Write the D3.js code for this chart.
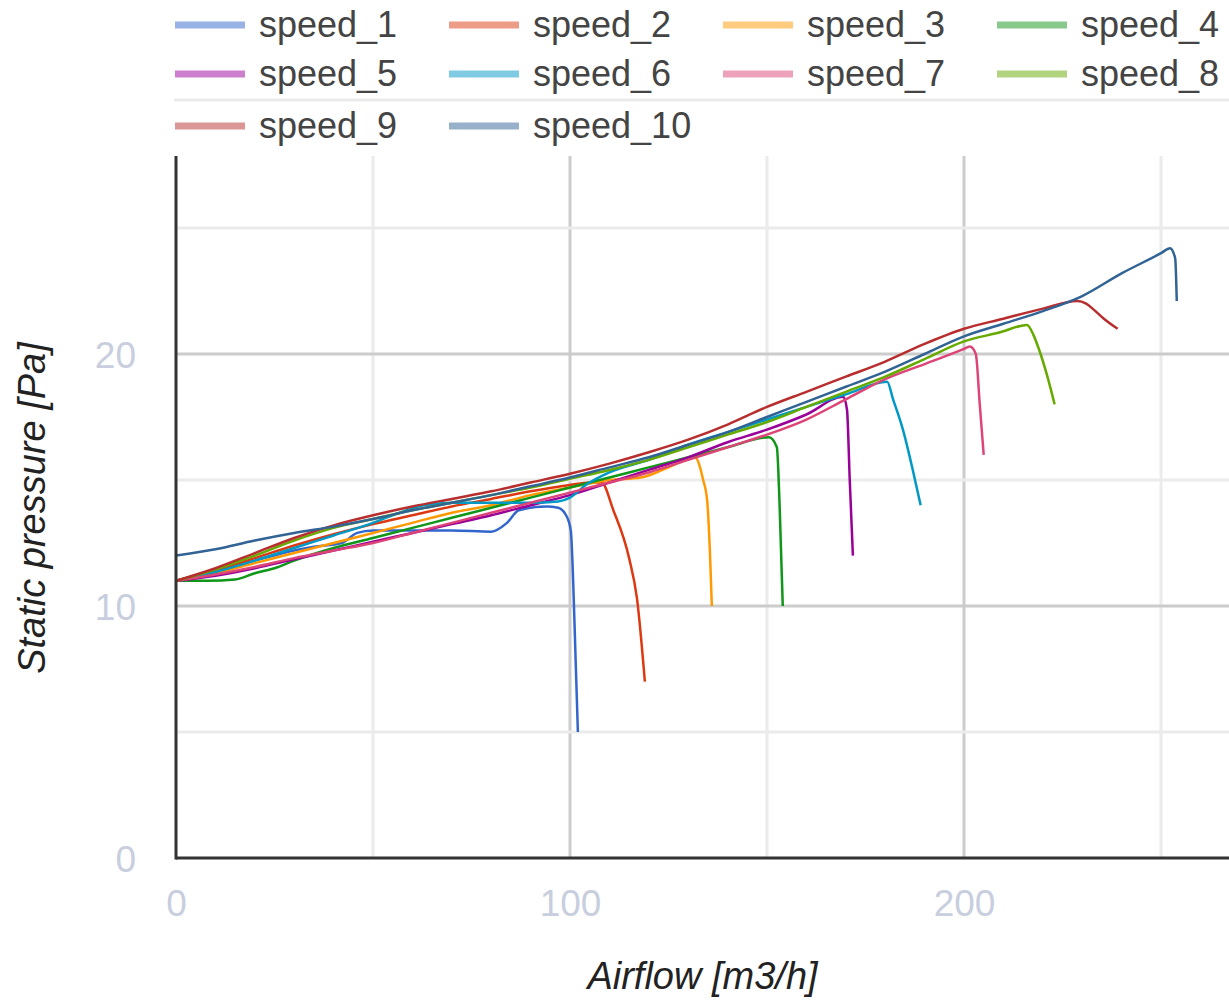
<!DOCTYPE html>
<html>
<head>
<meta charset="utf-8">
<script src="https://cdn.jsdelivr.net/npm/d3@7"></script>
<style>
  body { margin: 0; background: #fff; }
  svg { display: block; font-family: "Liberation Sans", Arial, sans-serif; }
</style>
</head>
<body>
<div id="chart"></div>
<script>
// airflow [m3/h], static pressure [Pa]
const speed_1 = [[0, 11], [10, 11.4], [20, 11.8], [30, 12.2], [35, 12.35], [42, 12.5], [46, 12.9], [50, 13.0], [60, 13.0], [70, 13.0], [80, 12.95], [84, 13.3], [87, 13.8], [94, 13.95], [97, 13.9], [99, 13.6], [100.2, 13.0], [100.8, 11.0], [101.4, 8.0], [102, 5.0]];
const speed_2 = [[0, 11], [10, 11.4], [20, 11.9], [30, 12.4], [40, 12.85], [50, 13.25], [60, 13.6], [70, 13.95], [80, 14.25], [90, 14.55], [100, 14.8], [105, 14.9], [108, 14.9], [111, 13.8], [115, 11.9], [117, 10.3], [119, 7.0]];
const speed_3 = [[0, 11], [10, 11.3], [20, 11.7], [30, 12.1], [40, 12.5], [50, 12.9], [60, 13.3], [70, 13.7], [80, 14.0], [90, 14.4], [100, 14.7], [110, 15.0], [118, 15.1], [125, 15.5], [131.7, 15.9], [133.8, 15.0], [134.8, 14.2], [135.5, 12.2], [136, 10.0]];
const speed_4 = [[0, 11], [8, 11.0], [15, 11.05], [20, 11.3], [25, 11.5], [30, 11.8], [40, 12.3], [50, 12.7], [60, 13.1], [70, 13.5], [80, 13.9], [90, 14.3], [100, 14.7], [110, 15.1], [120, 15.5], [130, 15.9], [140, 16.3], [150.5, 16.7], [152.5, 16.3], [153.2, 14.0], [154, 10.0]];
const speed_5 = [[0, 11], [10, 11.2], [20, 11.5], [30, 11.85], [40, 12.2], [50, 12.55], [60, 12.9], [70, 13.25], [80, 13.6], [90, 14.0], [100, 14.4], [110, 14.9], [120, 15.4], [130, 15.9], [140, 16.5], [150, 17.0], [160, 17.6], [169.3, 18.3], [170.3, 17.8], [171, 15.0], [171.8, 12.0]];
const speed_6 = [[0, 11], [10, 11.35], [20, 11.8], [30, 12.3], [40, 12.8], [50, 13.3], [55, 13.6], [63, 14.0], [70, 14.1], [80, 14.1], [90, 14.1], [97, 14.15], [100, 14.3], [104, 14.8], [110, 15.3], [120, 15.8], [130, 16.4], [140, 16.9], [150, 17.4], [160, 17.9], [170, 18.4], [180.5, 18.9], [182, 18.2], [184.5, 17.0], [187, 15.4], [189, 14.0]];
const speed_7 = [[0, 11], [10, 11.25], [20, 11.55], [30, 11.9], [40, 12.2], [50, 12.5], [60, 12.9], [70, 13.3], [80, 13.7], [90, 14.1], [100, 14.5], [110, 14.9], [120, 15.3], [130, 15.8], [140, 16.3], [150, 16.8], [160, 17.4], [170, 18.2], [180, 19.0], [190, 19.6], [200, 20.2], [201.5, 20.3], [203, 20.0], [204, 18.0], [205, 16.0]];
const speed_8 = [[0, 11], [10, 11.45], [20, 12.0], [30, 12.6], [40, 13.1], [50, 13.45], [60, 13.8], [70, 14.1], [80, 14.4], [90, 14.7], [100, 15.05], [110, 15.4], [120, 15.8], [130, 16.3], [140, 16.8], [150, 17.3], [160, 17.9], [170, 18.5], [180, 19.1], [190, 19.8], [200, 20.5], [210, 20.9], [214, 21.1], [216, 21.15], [217.5, 20.8], [219, 20.2], [221, 19.2], [223, 18.0]];
const speed_9 = [[0, 11], [10, 11.5], [20, 12.1], [30, 12.7], [40, 13.2], [50, 13.6], [60, 13.95], [70, 14.25], [80, 14.55], [90, 14.9], [100, 15.25], [110, 15.65], [120, 16.1], [130, 16.6], [140, 17.2], [150, 17.9], [160, 18.5], [170, 19.1], [180, 19.7], [190, 20.4], [200, 21.0], [210, 21.4], [220, 21.8], [228.7, 22.1], [231, 22.0], [233, 21.75], [235.5, 21.4], [239, 21.0]];
const speed_10 = [[0, 12], [10, 12.25], [20, 12.6], [30, 12.9], [40, 13.15], [50, 13.45], [60, 13.8], [70, 14.1], [80, 14.4], [90, 14.75], [100, 15.1], [110, 15.5], [120, 15.9], [130, 16.4], [140, 16.9], [150, 17.5], [160, 18.1], [170, 18.7], [180, 19.3], [190, 20.0], [200, 20.7], [210, 21.2], [220, 21.7], [230, 22.3], [240, 23.2], [250, 24.0], [252.3, 24.2], [253.6, 23.8], [254, 22.1]];

const seriesNames = ["speed_1", "speed_2", "speed_3", "speed_4", "speed_5", "speed_6", "speed_7", "speed_8", "speed_9", "speed_10"];
const seriesValues = [speed_1, speed_2, speed_3, speed_4, speed_5, speed_6, speed_7, speed_8, speed_9, speed_10];
const colors = ["#3366cc", "#dc3912", "#ff9900", "#109618", "#990099", "#0099c6", "#dd4477", "#66aa00", "#b82e2e", "#316395"];

const xLabelTicks = [0, 100, 200];
const xGridTicks = [50, 100, 150, 200, 250];
const yLabelTicks = [0, 10, 20];
const yGridTicks = [5, 10, 15, 20, 25];

const W = 1229, H = 1001;
const plot = { left: 176, right: 1229, top: 156, bottom: 858 };

const svg = d3.select("#chart").append("svg")
    .attr("width", W)
    .attr("height", H);

// 394 px per 100 m3/h, 25.2 px per Pa
const x = d3.scaleLinear()
    .domain([0, (plot.right - plot.left) / 3.94])
    .range([plot.left, plot.right]);
const y = d3.scaleLinear()
    .domain([0, (plot.bottom - plot.top) / 25.2])
    .range([plot.bottom, plot.top]);

// gridlines
const grid = svg.append("g");
grid.selectAll(".vgrid")
    .data(xGridTicks)
    .enter().append("line")
    .attr("x1", d => x(d)).attr("x2", d => x(d))
    .attr("y1", plot.top).attr("y2", plot.bottom)
    .attr("stroke", d => d % 100 === 0 ? "#cccccc" : "#ebebeb")
    .attr("stroke-width", 3);
grid.selectAll(".hgrid")
    .data(yGridTicks)
    .enter().append("line")
    .attr("x1", plot.left).attr("x2", plot.right)
    .attr("y1", d => y(d)).attr("y2", d => y(d))
    .attr("stroke", d => d % 10 === 0 ? "#cccccc" : "#ebebeb")
    .attr("stroke-width", 3);

// lines
svg.append("clipPath").attr("id", "clip")
    .append("rect")
    .attr("x", plot.left).attr("y", plot.top - 10)
    .attr("width", plot.right - plot.left).attr("height", plot.bottom - plot.top + 10);

const line = d3.line()
    .x(d => x(d[0]))
    .y(d => y(d[1]))
    .curve(d3.curveMonotoneX);

svg.append("g")
    .attr("clip-path", "url(#clip)")
    .selectAll("path")
    .data(seriesValues)
    .enter().append("path")
    .attr("d", line)
    .attr("fill", "none")
    .attr("stroke", (d, i) => colors[i])
    .attr("stroke-width", 2.5)
    .attr("stroke-linejoin", "round");

// axes
const xAxis = d3.axisBottom(x).tickValues(xLabelTicks).tickSize(0).tickPadding(30);
const yAxis = d3.axisLeft(y).tickValues(yLabelTicks).tickSize(0).tickPadding(40);

const gx = svg.append("g")
    .attr("transform", `translate(0,${plot.bottom})`)
    .call(xAxis);
const gy = svg.append("g")
    .attr("transform", `translate(${plot.left},0)`)
    .call(yAxis);

[gx, gy].forEach(g => {
    g.select(".domain").remove();
    g.selectAll("text")
        .attr("fill", "#c8cede")
        .style("font-size", "37px")
        .style("font-family", "\"Liberation Sans\", Arial, sans-serif");
});
gx.selectAll("text").attr("dy", "0.75em");
gy.selectAll("text").attr("dy", "0.36em");

svg.append("line")
    .attr("x1", plot.left).attr("x2", plot.left)
    .attr("y1", plot.top).attr("y2", plot.bottom + 1.5)
    .attr("stroke", "#333").attr("stroke-width", 3);
svg.append("line")
    .attr("x1", plot.left).attr("x2", plot.right)
    .attr("y1", plot.bottom).attr("y2", plot.bottom)
    .attr("stroke", "#333").attr("stroke-width", 3);

// axis titles
svg.append("text")
    .attr("x", (plot.left + plot.right) / 2)
    .attr("y", 989)
    .attr("text-anchor", "middle")
    .attr("fill", "#222")
    .style("font-size", "38px")
    .style("font-style", "italic")
    .text("Airflow [m3/h]");

svg.append("text")
    .attr("transform", `translate(45, 508) rotate(-90)`)
    .attr("text-anchor", "middle")
    .attr("fill", "#222")
    .style("font-size", "38px")
    .style("font-style", "italic")
    .text("Static pressure [Pa]");

// legend
const rowY = [25, 74, 126];
const legend = svg.append("g");
legend.append("line")
    .attr("x1", 174).attr("x2", W)
    .attr("y1", 100).attr("y2", 100)
    .attr("stroke", "#ebebeb").attr("stroke-width", 3);

const item = legend.selectAll(".item")
    .data(seriesNames)
    .enter().append("g")
    .attr("transform", (d, i) => `translate(${175 + (i % 4) * 274},${rowY[Math.floor(i / 4)]})`);
item.append("rect")
    .attr("x", 0).attr("y", -3.5)
    .attr("width", 70).attr("height", 7)
    .attr("fill", (d, i) => colors[i])
    .attr("opacity", 0.5);
item.append("text")
    .attr("x", 84)
    .attr("y", 12)
    .attr("fill", "#444")
    .style("font-size", "36px")
    .text(d => d);
</script>
</body>
</html>
